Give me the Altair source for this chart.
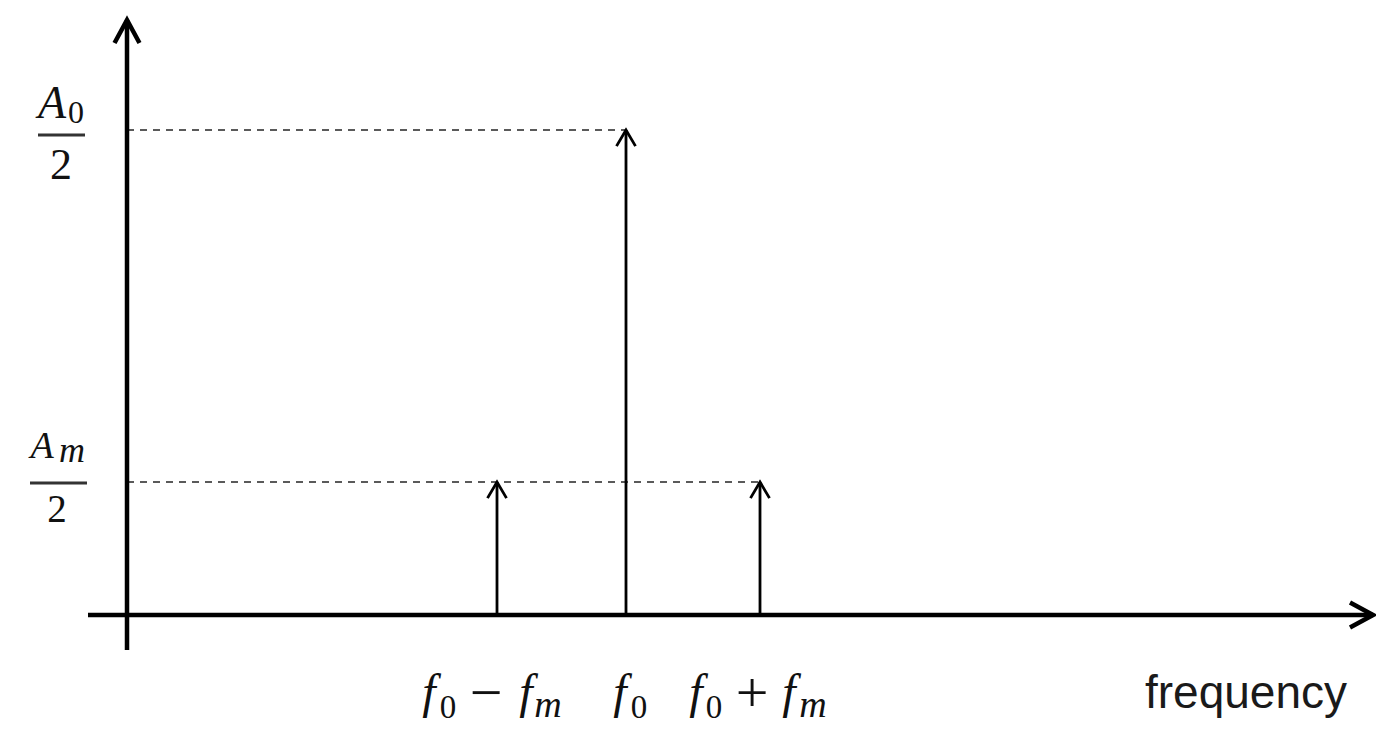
import altair as alt
import pandas as pd

# ---- data ----
freq_names = ["f0 - fm", "f0", "f0 + fm"]
freqs = [3.70, 4.99, 6.33]          # frequency positions (origin = 0)
amps = [1.33, 4.85, 1.33]           # spectral line amplitudes
amp_names = ["A0/2", "Am/2"]
amp_levels = [4.85, 1.33]

X_DOMAIN = [-1.19, 12.49]
Y_DOMAIN = [-1.17, 6.07]
X_AXIS = [-0.39, 12.46]
Y_AXIS = [-0.35, 5.95]

SERIF = "Liberation Serif"
INK = "#111111"

xs = alt.Scale(domain=X_DOMAIN, nice=False, zero=False)
ys = alt.Scale(domain=Y_DOMAIN, nice=False, zero=False)

lines = pd.DataFrame({"name": freq_names, "freq": freqs, "amp": amps})
dashed = pd.DataFrame({
    "level": amp_levels,
    "start": [0.0, 0.0],
    "end": [max(f for f, a in zip(freqs, amps) if a == lv) for lv in amp_levels],
})
x_axis = pd.DataFrame({"x": [X_AXIS[0]], "x2": [X_AXIS[1]], "y": [0.0]})
y_axis = pd.DataFrame({"x": [0.0], "y": [Y_AXIS[0]], "y2": [Y_AXIS[1]]})
x_tip = pd.DataFrame({"x": [X_AXIS[1]], "y": [0.0]})
y_tip = pd.DataFrame({"x": [0.0], "y": [Y_AXIS[1]]})

UP = "M -1 1.7 L 0 0 L 1 1.7"
AX_UP = "M -1 1.84 L 0 0 L 1 1.84"
AX_RIGHT = "M -1.84 -1 L 0 0 L -1.84 1"

dash_layer = alt.Chart(dashed).mark_rule(
    color="#5a5a5a", strokeWidth=1.8, strokeDash=[7, 6]
).encode(
    x=alt.X("start:Q", scale=xs, axis=None),
    x2="end:Q",
    y=alt.Y("level:Q", scale=ys, axis=None),
)

stem_layer = alt.Chart(lines).mark_rule(color="black", strokeWidth=2.8).encode(
    x=alt.X("freq:Q", scale=xs, axis=None),
    y=alt.Y("amp:Q", scale=ys, axis=None),
    y2=alt.datum(0),
)

head_layer = alt.Chart(lines).mark_point(
    shape=UP, filled=False, size=361, strokeWidth=2.8, color="black",
    opacity=1, strokeJoin="miter",
).encode(
    x=alt.X("freq:Q", scale=xs, axis=None),
    y=alt.Y("amp:Q", scale=ys, axis=None),
)

xaxis_layer = alt.Chart(x_axis).mark_rule(color="black", strokeWidth=4.5).encode(
    x=alt.X("x:Q", scale=xs, axis=None), x2="x2:Q",
    y=alt.Y("y:Q", scale=ys, axis=None),
)
yaxis_layer = alt.Chart(y_axis).mark_rule(color="black", strokeWidth=4.5).encode(
    x=alt.X("x:Q", scale=xs, axis=None),
    y=alt.Y("y:Q", scale=ys, axis=None), y2="y2:Q",
)
xtip_layer = alt.Chart(x_tip).mark_point(
    shape=AX_RIGHT, filled=False, size=625, strokeWidth=4.5, color="black",
    opacity=1, strokeJoin="miter",
).encode(x=alt.X("x:Q", scale=xs, axis=None), y=alt.Y("y:Q", scale=ys, axis=None))
ytip_layer = alt.Chart(y_tip).mark_point(
    shape=AX_UP, filled=False, size=625, strokeWidth=4.5, color="black",
    opacity=1, strokeJoin="miter",
).encode(x=alt.X("x:Q", scale=xs, axis=None), y=alt.Y("y:Q", scale=ys, axis=None))


# ---- x tick labels built from text pieces ----
def piece(row, text, dx, y_px, size, style="normal", font=SERIF):
    df = lines.iloc[[row]].assign(t=text)
    return alt.Chart(df).mark_text(
        font=font, fontSize=size, fontStyle=style, color=INK,
        align="center", baseline="alphabetic", dx=dx,
    ).encode(
        x=alt.X("freq:Q", scale=xs, axis=None),
        y=alt.value(y_px - 8),
        text="t:N",
    )

BASE = 708
SUB = 718
OPS = 58
xlabels = [
    piece(0, "f", -68, BASE, 48, "italic"),
    piece(0, "0", -49, SUB, 33),
    piece(0, "\u2212", -11, BASE + 4, OPS),
    piece(0, "f", 29, BASE, 48, "italic"),
    piece(0, "m", 51, SUB - 1, 38, "italic"),
    piece(1, "f", -6, BASE, 48, "italic"),
    piece(1, "0", 13, SUB, 33),
    piece(2, "f", -64, BASE, 48, "italic"),
    piece(2, "0", -46, SUB, 33),
    piece(2, "+", -8, BASE + 4, OPS),
    piece(2, "f", 29, BASE, 48, "italic"),
    piece(2, "m", 53, SUB - 1, 38, "italic"),
]

freq_word = alt.Chart(pd.DataFrame({"t": ["frequency"]})).mark_text(
    font="Liberation Sans", fontSize=46, color="#1a1a1a",
    align="left", baseline="alphabetic",
).encode(x=alt.value(1145 - 8), y=alt.value(708 - 8), text="t:N")


# ---- y labels (fractions) ----
levels = pd.DataFrame({"name": amp_names, "level": amp_levels})


def ypiece(row, text, x_px, dy, size, style="normal"):
    df = levels.iloc[[row]].assign(t=text)
    return alt.Chart(df).mark_text(
        font=SERIF, fontSize=size, fontStyle=style, color=INK,
        align="center", baseline="alphabetic", dy=dy,
    ).encode(
        x=alt.value(x_px - 8),
        y=alt.Y("level:Q", scale=ys, axis=None),
        text="t:N",
    )


def ybar(row, x1, x2, off):
    df = levels.iloc[[row]]
    return alt.Chart(df).mark_rule(color="#333333", strokeWidth=2.8, yOffset=off).encode(
        x=alt.value(x1 - 8), x2=alt.value(x2 - 8),
        y=alt.Y("level:Q", scale=ys, axis=None),
    )

ylabels = [
    ypiece(0, "A", 52, -12, 46, "italic"),
    ypiece(0, "0", 76, -7, 32),
    ybar(0, 38, 85, 5),
    ypiece(0, "2", 61, 49, 44),
    ypiece(1, "A", 42, -24, 38, "italic"),
    ypiece(1, "m", 72, -20, 36, "italic"),
    ybar(1, 30, 87, 1),
    ypiece(1, "2", 57, 40, 39),
]

chart = alt.layer(
    dash_layer, stem_layer, head_layer,
    xaxis_layer, yaxis_layer, xtip_layer, ytip_layer,
    *xlabels, freq_word, *ylabels,
).properties(
    width=1368, height=724, padding=0,
    autosize=alt.AutoSizeParams(type="none"),
    background="white",
).configure_view(stroke=None)

chart.save("out.html", embed_options={"renderer": "svg", "actions": False})
